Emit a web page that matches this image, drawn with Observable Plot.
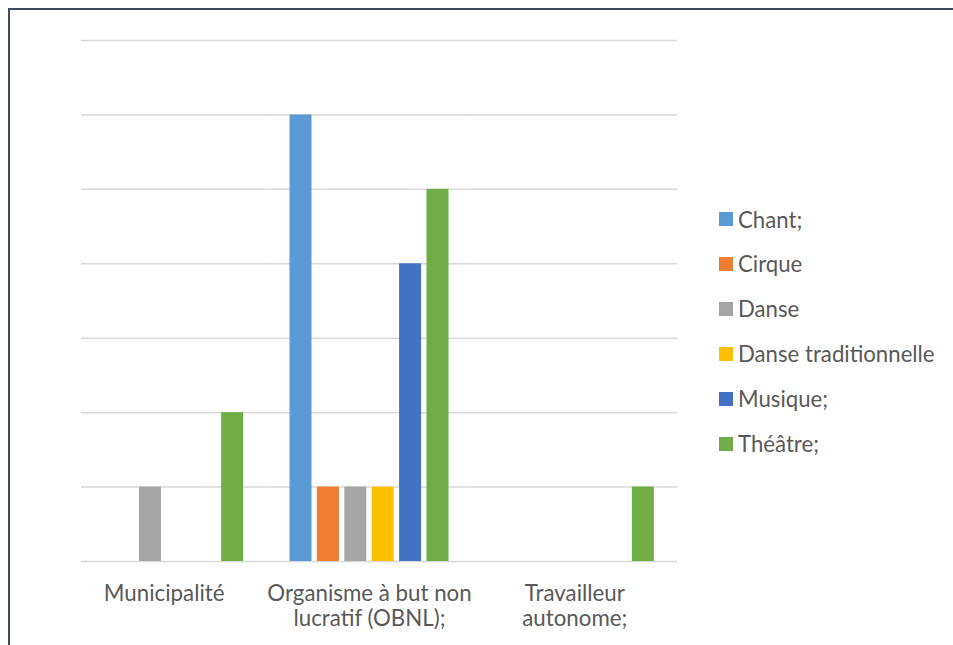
<!DOCTYPE html>
<html>
<head>
<meta charset="utf-8">
<script src="https://cdn.jsdelivr.net/npm/d3@7"></script>
<script src="https://cdn.jsdelivr.net/npm/@observablehq/plot@0.6"></script>
<style>
  html, body { margin: 0; padding: 0; background: #fff; overflow: hidden; }
  #wrap { position: relative; width: 953px; height: 645px; }
  #border { position: absolute; left: 8px; top: 8px; width: 1000px; height: 700px;
            border-left: 2px solid #3f4a5c; border-top: 2px solid #3f4a5c; box-sizing: border-box; }
  #chart { position: absolute; left: 0; top: 0; }
  #legend { position: absolute; left: 719px; top: 0; font-family: Lato, sans-serif; font-size: 22.2px; color: #595959; }
  .row { position: absolute; left: 0; white-space: nowrap; display: flex; align-items: center; height: 26px; }
  .sw { width: 14px; height: 14px; margin-right: 5px; flex: none; }
</style>
</head>
<body>
<div id="wrap">
  <div id="border"></div>
  <div id="chart"></div>
  <div id="legend"></div>
</div>
<script>
const categories = ["Municipalité", "Organisme à but non lucratif (OBNL);", "Travailleur autonome;"];
const categoryLines = ["Municipalité", "Organisme à but non\nlucratif (OBNL);", "Travailleur\nautonome;"];
const series = ["Chant;", "Cirque", "Danse", "Danse traditionnelle", "Musique;", "Théâtre;"];
const colors = ["#5b9bd5", "#ed7d31", "#a5a5a5", "#ffc000", "#4472c4", "#70ad47"];
const municipalite = [0, 0, 1, 0, 0, 2];
const obnl = [6, 1, 1, 1, 4, 5];
const travailleur = [0, 0, 0, 0, 0, 1];
const yTicks = [0, 1, 2, 3, 4, 5, 6, 7];

const valuesByCategory = [municipalite, obnl, travailleur];
const rows = [];
categories.forEach((c, i) => series.forEach((s, j) => {
  if (valuesByCategory[i][j] > 0) rows.push({category: c, series: s, value: valuesByCategory[i][j]});
}));
const gridFirst = yTicks.map(v => ({category: categories[0], value: v}));
const gridRest = categories.slice(1).flatMap(c => yTicks.map(v => ({category: c, value: v})));

const chart = Plot.plot({
  width: 953,
  height: 645,
  marginTop: 40,
  marginBottom: 84,
  marginLeft: 81,
  marginRight: 276,
  style: {fontFamily: "Lato, sans-serif", fontSize: "22.3px", color: "#595959", background: "transparent"},
  fx: {domain: categories, range: [61, 677], padding: 0, round: false, label: null},
  x: {domain: series, paddingInner: 0.197, paddingOuter: 0.845, round: false, axis: null},
  y: {domain: [0, 7], axis: null},
  color: {domain: series, range: colors},
  marks: [
    Plot.ruleY(gridFirst, {fx: "category", y: "value", stroke: "#d9d9d9", strokeWidth: 1.5, insetLeft: 20}),
    Plot.ruleY(gridRest, {fx: "category", y: "value", stroke: "#d9d9d9", strokeWidth: 1.5}),
    Plot.barY(rows, {fx: "category", x: "series", y: "value", fill: "series"}),
    Plot.axisFx({anchor: "bottom", tickSize: 0, tickPadding: 22, fontSize: 22.3, fill: "#595959", label: null,
      lineHeight: 1.12,
      tickFormat: d => categoryLines[categories.indexOf(d)]})
  ]
});
document.getElementById("chart").appendChild(chart);

const legend = document.getElementById("legend");
const rowCenters0 = 219, rowStep = 44.9;
series.forEach((s, i) => {
  const r = document.createElement("div");
  r.className = "row";
  r.style.top = (rowCenters0 + i * rowStep - 13) + "px";
  const sw = document.createElement("span");
  sw.className = "sw";
  sw.style.background = colors[i];
  const t = document.createElement("span");
  t.textContent = s;
  r.appendChild(sw); r.appendChild(t);
  legend.appendChild(r);
});
</script>
</body>
</html>
